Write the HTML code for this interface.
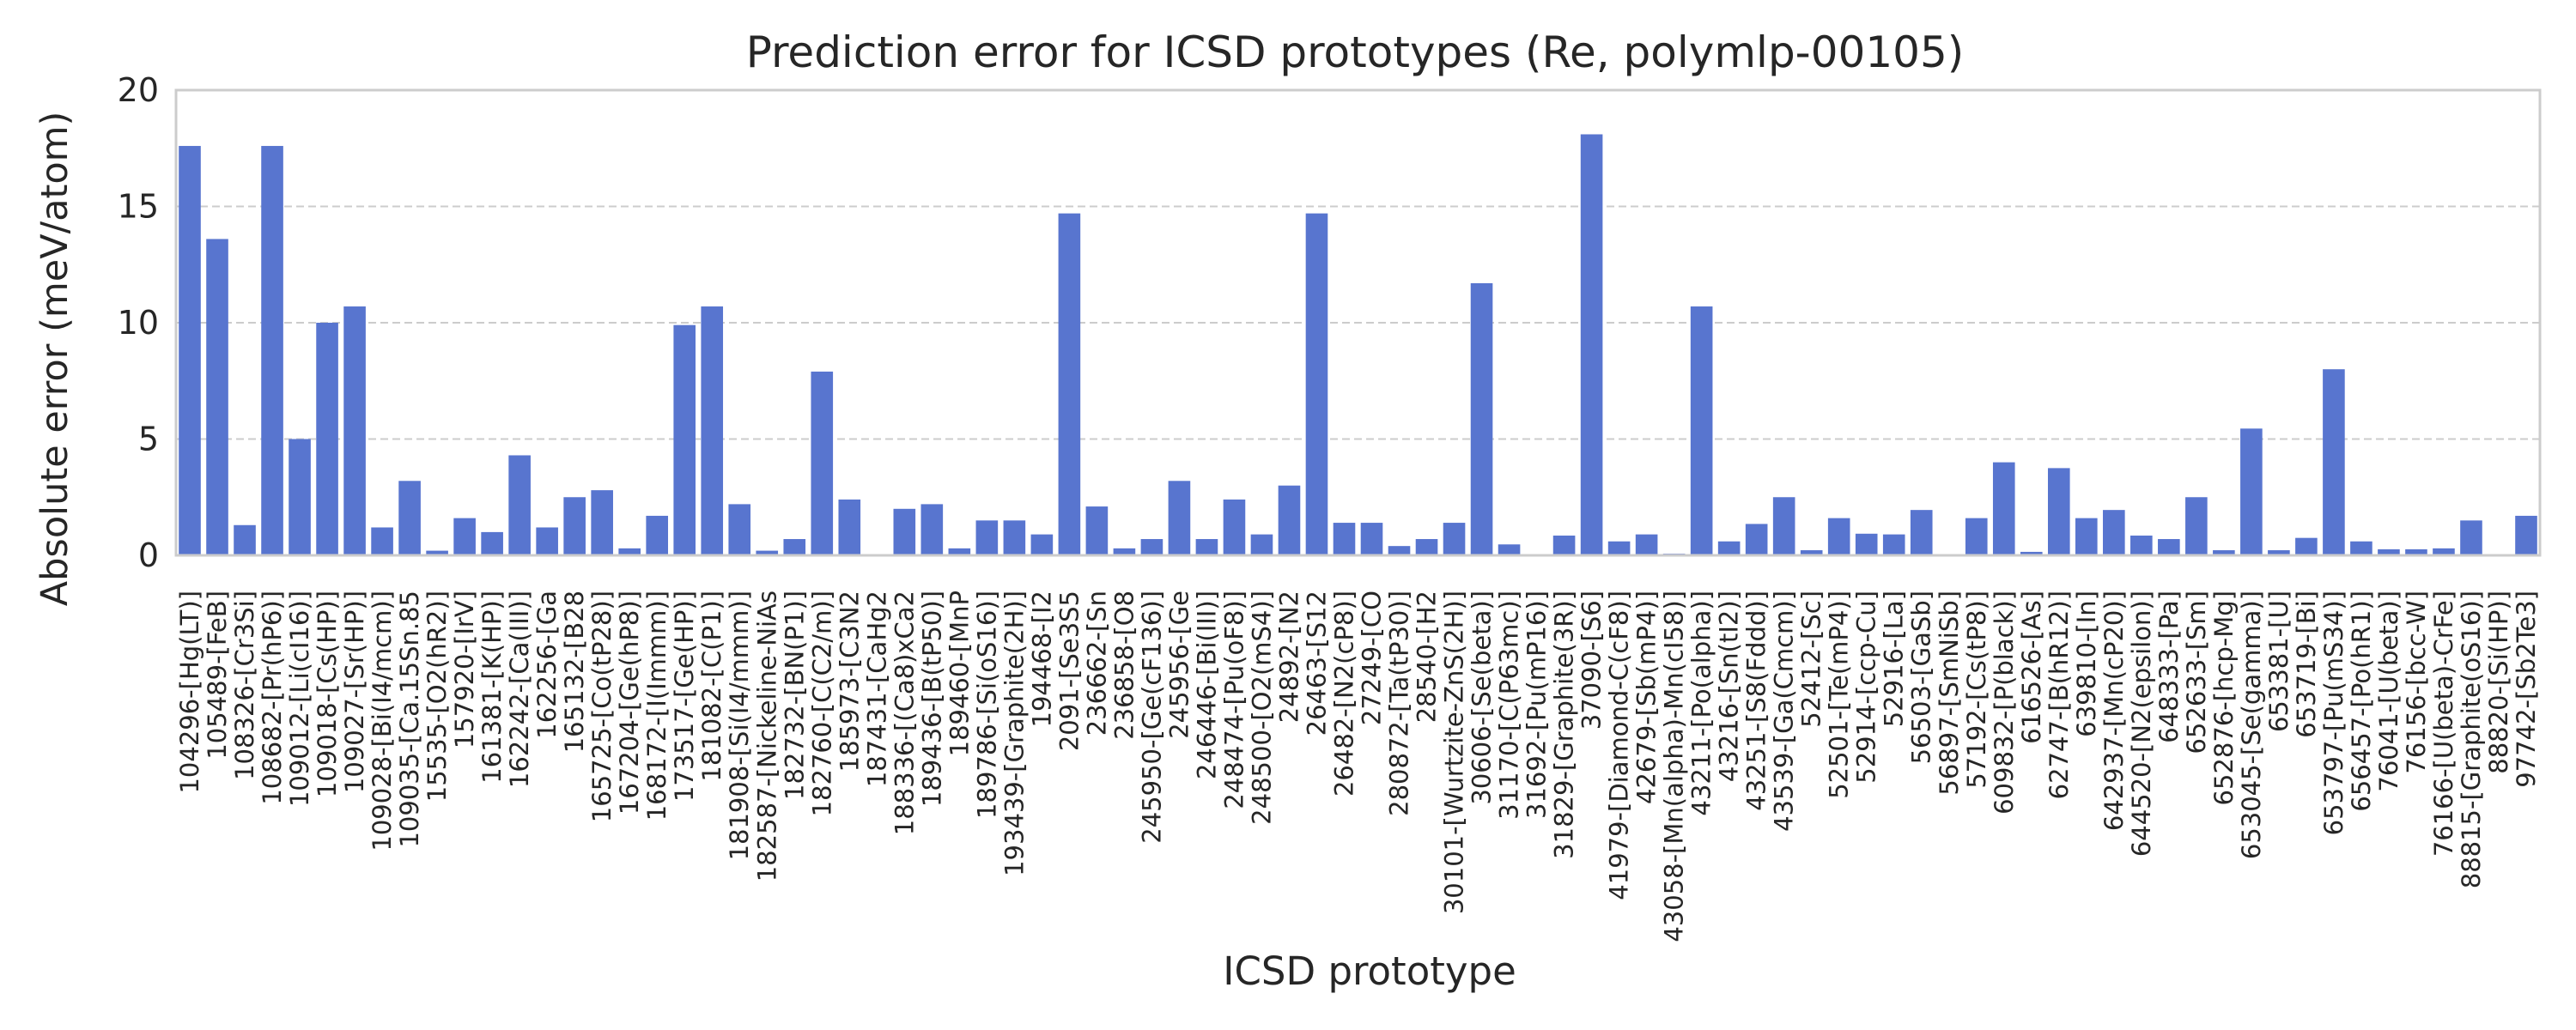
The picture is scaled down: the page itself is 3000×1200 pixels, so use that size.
<!DOCTYPE html>
<html><head><meta charset="utf-8"><style>
html,body{margin:0;padding:0;background:#fff;}
svg{display:block;font-family:"DejaVu Sans","Liberation Sans",sans-serif;}
</style></head><body>
<svg id="chart" width="3000" height="1200" viewBox="0 0 3000 1200" xmlns="http://www.w3.org/2000/svg">
<rect x="0" y="0" width="3000" height="1200" fill="#fff"/>
<text x="1578" y="78" text-anchor="middle" font-size="50" fill="#262626">Prediction error for ICSD prototypes (Re, polymlp-00105)</text>
<g id="grid"></g><g id="bars"></g>
<rect x="205" y="105" width="2753" height="542" fill="none" stroke="#cccccc" stroke-width="3"/>
<g id="yticks"></g><g id="xticks"></g>
<text transform="translate(78,418) rotate(-90)" text-anchor="middle" font-size="43" fill="#262626">Absolute error (meV/atom)</text>
<text x="1595" y="1147" text-anchor="middle" font-size="45" fill="#262626">ICSD prototype</text>
</svg>
<script>
const categories = ["104296-[Hg(LT)]","105489-[FeB]","108326-[Cr3Si]","108682-[Pr(hP6)]","109012-[Li(cI16)]","109018-[Cs(HP)]","109027-[Sr(HP)]","109028-[Bi(I4/mcm)]","109035-[Ca.15Sn.85","15535-[O2(hR2)]","157920-[IrV]","161381-[K(HP)]","162242-[Ca(III)]","162256-[Ga","165132-[B28","165725-[Co(tP28)]","167204-[Ge(hP8)]","168172-[I(Immm)]","173517-[Ge(HP)]","181082-[C(P1)]","181908-[Si(I4/mmm)]","182587-[Nickeline-NiAs","182732-[BN(P1)]","182760-[C(C2/m)]","185973-[C3N2","187431-[CaHg2","188336-[(Ca8)xCa2","189436-[B(tP50)]","189460-[MnP","189786-[Si(oS16)]","193439-[Graphite(2H)]","194468-[I2","2091-[Se3S5","236662-[Sn","236858-[O8","245950-[Ge(cF136)]","245956-[Ge","246446-[Bi(III)]","248474-[Pu(oF8)]","248500-[O2(mS4)]","24892-[N2","26463-[S12","26482-[N2(cP8)]","27249-[CO","280872-[Ta(tP30)]","28540-[H2","30101-[Wurtzite-ZnS(2H)]","30606-[Se(beta)]","31170-[C(P63mc)]","31692-[Pu(mP16)]","31829-[Graphite(3R)]","37090-[S6]","41979-[Diamond-C(cF8)]","42679-[Sb(mP4)]","43058-[Mn(alpha)-Mn(cI58)]","43211-[Po(alpha)]","43216-[Sn(tI2)]","43251-[S8(Fddd)]","43539-[Ga(Cmcm)]","52412-[Sc]","52501-[Te(mP4)]","52914-[ccp-Cu]","52916-[La]","56503-[GaSb]","56897-[SmNiSb]","57192-[Cs(tP8)]","609832-[P(black)]","616526-[As]","62747-[B(hR12)]","639810-[In]","642937-[Mn(cP20)]","644520-[N2(epsilon)]","648333-[Pa]","652633-[Sm]","652876-[hcp-Mg]","653045-[Se(gamma)]","653381-[U]","653719-[Bi]","653797-[Pu(mS34)]","656457-[Po(hR1)]","76041-[U(beta)]","76156-[bcc-W]","76166-[U(beta)-CrFe]","88815-[Graphite(oS16)]","88820-[Si(HP)]","97742-[Sb2Te3]"];
const errors = [17.6,13.6,1.3,17.6,5.0,10.0,10.7,1.2,3.2,0.2,1.6,1.0,4.3,1.2,2.5,2.8,0.3,1.7,9.9,10.7,2.2,0.2,0.7,7.9,2.4,0,2.0,2.2,0.3,1.5,1.5,0.9,14.7,2.1,0.3,0.7,3.2,0.7,2.4,0.9,3.0,14.7,1.4,1.4,0.4,0.7,1.4,11.7,0.47,0,0.85,18.1,0.6,0.9,0.07,10.7,0.6,1.35,2.5,0.22,1.6,0.93,0.9,1.95,0,1.6,4.0,0.15,3.75,1.6,1.95,0.85,0.7,2.5,0.22,5.45,0.22,0.75,8.0,0.6,0.26,0.26,0.3,1.5,0,1.7];
const yTicks = [0,5,10,15,20];

const NS="http://www.w3.org/2000/svg";
const L=205,R=2958,T=105,B=647,YMAX=20;
const step=(R-L)/categories.length;
function xPos(i){return L+step*(i+0.5);}
function yPos(v){return B-(v/YMAX)*(B-T);}
function mk(tag,attrs,parent){const e=document.createElementNS(NS,tag);for(const k in attrs)e.setAttribute(k,attrs[k]);parent.appendChild(e);return e;}
const grid=document.getElementById('grid'),bars=document.getElementById('bars'),yt=document.getElementById('yticks'),xt=document.getElementById('xticks');
yTicks.forEach(v=>{
  if(v>0&&v<YMAX){const g=mk('line',{x1:L,x2:R,y1:yPos(v),y2:yPos(v),stroke:'#cccccc','stroke-width':2,'stroke-dasharray':'9,5'},grid);
  
  }
  const t=mk('text',{x:185,y:yPos(v)+13,'text-anchor':'end','font-size':38,fill:'#262626'},yt);
  t.textContent=v;
  
  
});
categories.forEach((c,i)=>{
  const w=step*0.8,v=errors[i];
  const r=mk('rect',{x:xPos(i)-w/2,y:yPos(v),width:w,height:B-yPos(v),fill:'#5875cf'},bars);
  
  
  const t=mk('text',{transform:`translate(${xPos(i)+10},688) rotate(-90)`,'text-anchor':'end','font-size':29,fill:'#262626'},xt);
  t.textContent=c;
  
  
});
</script>
</body></html>
